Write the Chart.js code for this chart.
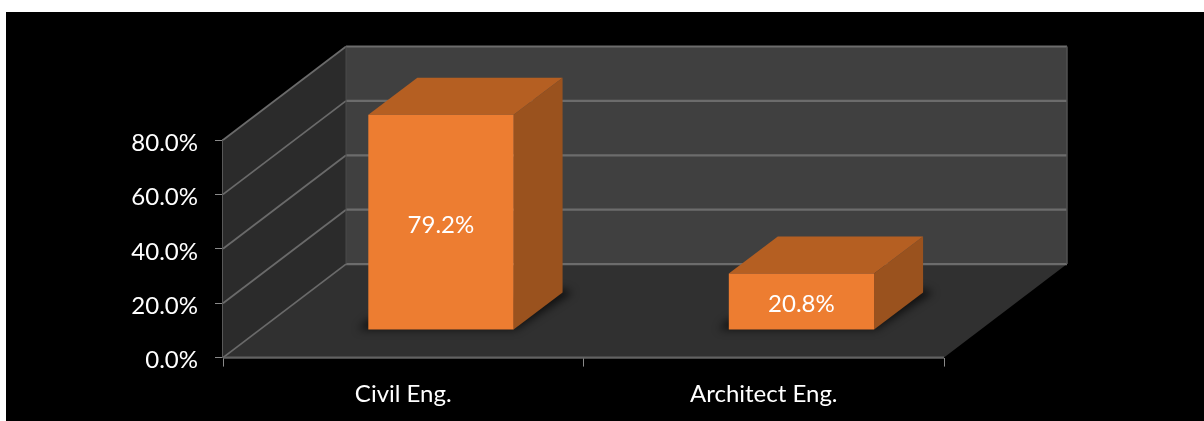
<!DOCTYPE html>
<html>
<head>
<meta charset="utf-8">
<style>
html,body{margin:0;padding:0;background:#fff;width:1204px;height:421px;overflow:hidden}
#wrap{position:absolute;left:0;top:0;width:1204px;height:421px}
#c{filter:blur(0.45px)}
</style>
<script src="https://cdn.jsdelivr.net/npm/chart.js@4"></script>
</head>
<body>
<div id="wrap"><canvas id="c" width="1204" height="421"></canvas></div>
<script>
const categories = ["Civil Eng.", "Architect Eng."];
const shares = [79.2, 20.8];
const yMax = 80;
const yStep = 20;

const FONT = "Lato";
const DEPTH = {x: 123, y: -93.5};      // offset of the back wall
const BAR_FRONT = {x: 37.7, y: -27.5}; // offset of the front of the bars
const BAR_DEPTH = {x: 49, y: -37};     // front-to-back extent of a bar

function poly(ctx, pts, fill){
  ctx.beginPath();
  pts.forEach((p,i)=> i ? ctx.lineTo(p[0],p[1]) : ctx.moveTo(p[0],p[1]));
  ctx.closePath();
  ctx.fillStyle = fill;
  ctx.fill();
}
function line(ctx, a, b, color, w){
  ctx.beginPath();
  ctx.moveTo(a[0],a[1]); ctx.lineTo(b[0],b[1]);
  ctx.strokeStyle = color; ctx.lineWidth = w; ctx.stroke();
}

const scene = {
  id: "scene",
  beforeDraw(chart){
    const ctx = chart.ctx;
    ctx.save();
    ctx.fillStyle = "#fff"; ctx.fillRect(0,0,1204,421);
    ctx.fillStyle = "#000"; ctx.fillRect(6,12,1198,409);
    ctx.restore();
  },
  beforeDatasetsDraw(chart){
    const ctx = chart.ctx, {x, y} = chart.scales;
    const L = x.left, R = x.right, B = y.getPixelForValue(0), T = y.getPixelForValue(yMax);
    const dx = DEPTH.x, dy = DEPTH.y;
    ctx.save();
    poly(ctx, [[L,B],[L+dx,B+dy],[L+dx,T+dy],[L,T]], "#2b2b2b");
    poly(ctx, [[L+dx,B+dy],[R+dx,B+dy],[R+dx,T+dy],[L+dx,T+dy]], "#404040");
    poly(ctx, [[L,B],[R,B],[R+dx,B+dy],[L+dx,B+dy]], "#303030");

    // grid on the walls
    y.ticks.forEach(t=>{
      const p = y.getPixelForValue(t.value);
      line(ctx, [L,p], [L+dx,p+dy], "#6a6a6a", 1.8);
      line(ctx, [L+dx,p+dy], [R+dx,p+dy], "#6c6c6c", 2.2);
    });
    line(ctx, [R+dx,B+dy], [R+dx,T+dy], "#525252", 1.5);
    line(ctx, [L+dx,B+dy], [L+dx,T+dy], "#4a4a4a", 1);
    line(ctx, [L,B], [R,B], "#626262", 2.2);

    // contact shadows on the floor
    const meta = chart.getDatasetMeta(0);
    ctx.save();
    ctx.filter = "blur(4px)";
    meta.data.forEach(el=>{
      const l = el.x - el.width/2 + BAR_FRONT.x, r = el.x + el.width/2 + BAR_FRONT.x;
      const b = el.base + BAR_FRONT.y;
      poly(ctx, [[l-10,b],[r+2,b],[r+BAR_DEPTH.x+10,b+BAR_DEPTH.y],[r+BAR_DEPTH.x,b+BAR_DEPTH.y-4],[l,b-10]], "rgba(0,0,0,0.65)");
    });
    ctx.restore();

    // side and top faces
    meta.data.forEach(el=>{
      const l = el.x - el.width/2 + BAR_FRONT.x, r = el.x + el.width/2 + BAR_FRONT.x;
      const t = el.y + BAR_FRONT.y, b = el.base + BAR_FRONT.y;
      const bx = BAR_DEPTH.x, by = BAR_DEPTH.y;
      poly(ctx, [[r,b],[r+bx,b+by],[r+bx,t+by],[r,t]], "#9A521E");
      poly(ctx, [[l,t],[r,t],[r+bx,t+by],[l+bx,t+by]], "#B55F22");
    });
    ctx.restore();

    // the library's own bars form the front faces, pushed back onto the floor
    ctx.save();
    ctx.translate(BAR_FRONT.x, BAR_FRONT.y);
  },
  afterDatasetsDraw(chart){
    const ctx = chart.ctx;
    ctx.restore();
    ctx.save();
    ctx.font = "24px " + FONT;
    ctx.fillStyle = "#fff";
    ctx.textAlign = "center";
    ctx.textBaseline = "middle";
    chart.getDatasetMeta(0).data.forEach((el,i)=>{
      const cy = (el.y + el.base)/2 + BAR_FRONT.y + 3;
      ctx.fillText(shares[i].toFixed(1) + "%", el.x + BAR_FRONT.x, cy);
    });
    ctx.restore();
  }
};

new Chart(document.getElementById("c"), {
  type: "bar",
  data: {
    labels: categories,
    datasets: [{
      data: shares,
      backgroundColor: "#ED7D31",
      borderWidth: 0,
      barPercentage: 0.403,
      categoryPercentage: 1,
      clip: false
    }]
  },
  plugins: [scene],
  options: {
    responsive: false,
    animation: false,
    events: [],
    layout: {padding: {left: 0, right: 260, top: 140, bottom: 0}},
    plugins: {legend: {display: false}, tooltip: {enabled: false}, title: {display: false}},
    scales: {
      x: {
        afterFit(s){ s.height = 63.4; },
        grid: {drawOnChartArea: false, drawTicks: true, tickLength: 9, color: "#8a8a8a", offset: true},
        border: {display: false},
        ticks: {color: "#fff", font: {family: FONT, size: 24}, padding: 13, maxRotation: 0}
      },
      y: {
        min: 0, max: yMax,
        afterFit(s){ s.width = 223; },
        grid: {drawOnChartArea: false, drawTicks: true, tickLength: 8, color: "#8a8a8a"},
        border: {display: true, color: "#585858", width: 2},
        ticks: {stepSize: yStep, color: "#fff", font: {family: FONT, size: 24}, padding: 17, labelOffset: 3,
                callback: v => v.toFixed(1) + "%"}
      }
    }
  }
});
</script>
</body>
</html>
